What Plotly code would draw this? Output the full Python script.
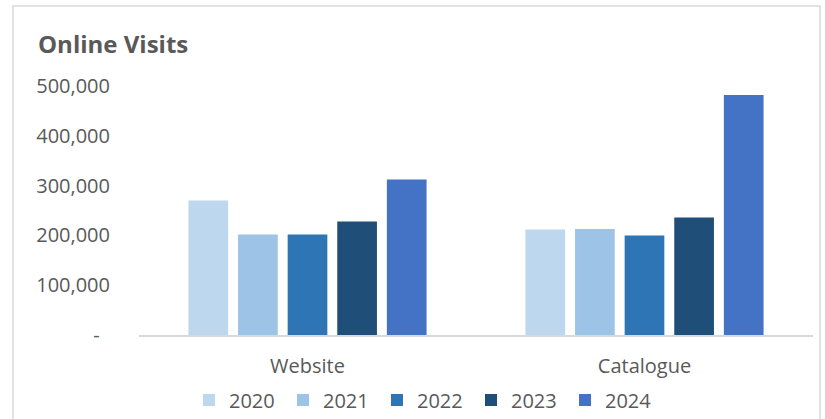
import plotly.graph_objects as go

# Chart data
channels = ["Website", "Catalogue"]
years = ["2020", "2021", "2022", "2023", "2024"]
visits_2020 = [270000, 212000]
visits_2021 = [202000, 213000]
visits_2022 = [202000, 200000]
visits_2023 = [228000, 236000]
visits_2024 = [312000, 482000]
series = [visits_2020, visits_2021, visits_2022, visits_2023, visits_2024]
colors = ["#BDD7EE", "#9DC3E6", "#2E75B6", "#1F4E79", "#4472C4"]

tick_vals = [0, 100000, 200000, 300000, 400000, 500000]
tick_text = ["-\u00a0\u00a0", "100,000", "200,000", "300,000", "400,000", "500,000"]

FONT = "Open Sans"
GREY = "#595959"

fig = go.Figure()
for year, vals, col in zip(years, series, colors):
    fig.add_trace(go.Bar(
        name=year, x=channels, y=vals, marker_color=col,
        marker_line_width=0,
    ))

W, H = 825, 419
ml, mr, mt, mb = 139, 12, 86, 84
pw, ph = W - ml - mr, H - mt - mb


def px_x(p):
    return (p - ml) / pw


def px_y(p):
    return (H - mb - p) / ph


fig.update_layout(
    width=W, height=H,
    margin=dict(l=ml, r=mr, t=mt, b=mb, autoexpand=False),
    paper_bgcolor="white", plot_bgcolor="white",
    barmode="group", bargap=0.264, bargroupgap=0.2,
    font=dict(family=FONT, color=GREY, size=20),
    showlegend=True,
    legend=dict(
        orientation="h", x=px_x(189), xanchor="left", y=px_y(400), yanchor="middle",
        font=dict(size=20, color=GREY), entrywidth=49, entrywidthmode="pixels",
        itemclick=False, bgcolor="rgba(0,0,0,0)",
    ),
    xaxis=dict(
        showline=True, linecolor="#D9D9D9", linewidth=1.5,
        showgrid=False, ticks="", tickfont=dict(size=20, color=GREY),
        ticklabelstandoff=12,
    ),
    yaxis=dict(
        range=[0, 500000], tickvals=tick_vals, ticktext=tick_text,
        showgrid=False, zeroline=False, showline=False, ticks="",
        tickfont=dict(size=20, color=GREY), ticklabelstandoff=28,
    ),
    shapes=[dict(
        type="rect", xref="paper", yref="paper",
        x0=px_x(13), x1=px_x(820), y0=px_y(430), y1=px_y(6),
        line=dict(color="#D9D9D9", width=1.5), fillcolor="rgba(0,0,0,0)",
        layer="below",
    )],
    annotations=[dict(
        text="<b>Online Visits</b>", xref="paper", yref="paper",
        x=px_x(36), y=px_y(44), xanchor="left", yanchor="middle",
        showarrow=False, font=dict(size=24, color=GREY, family=FONT),
    )],
)

fig.write_html("out.html")
